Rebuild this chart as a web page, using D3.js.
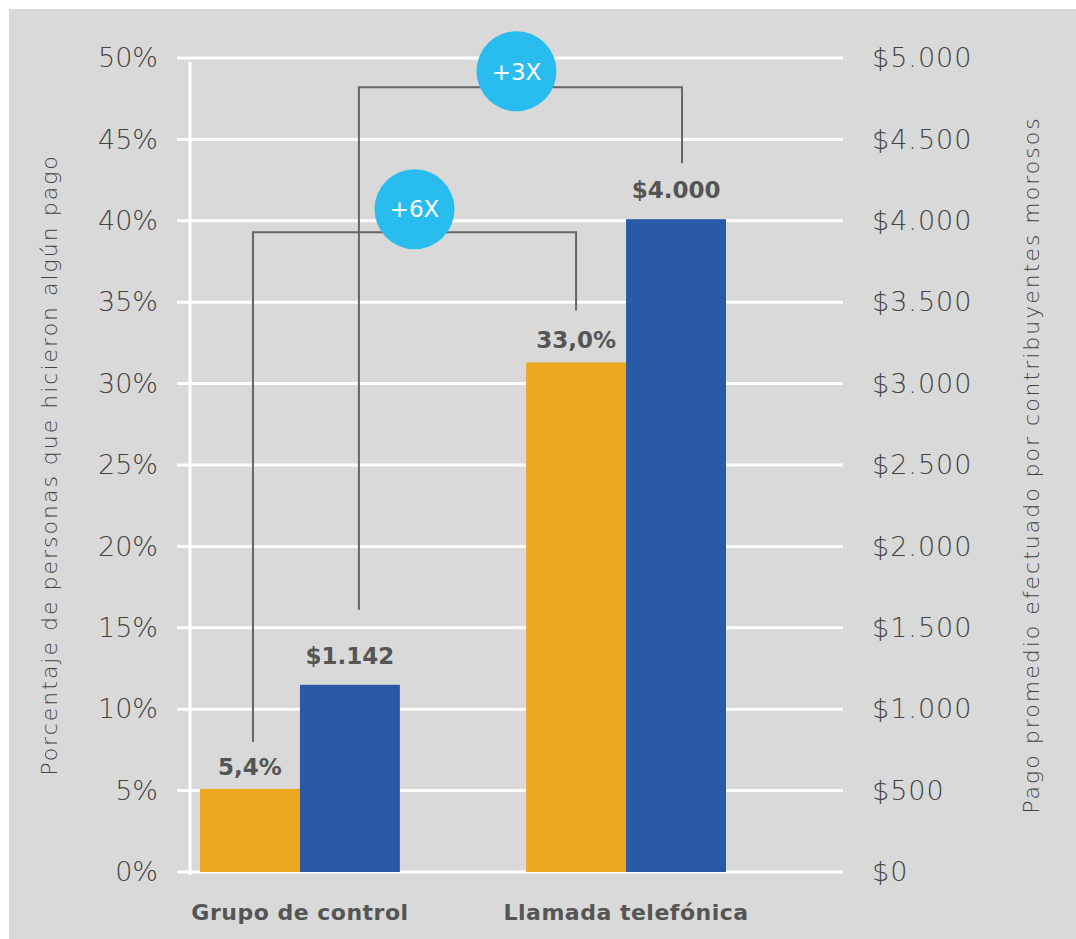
<!DOCTYPE html>
<html>
<head>
<meta charset="utf-8">
<script src="https://cdn.jsdelivr.net/npm/d3@7"></script>
<style>
  body { margin: 0; background: #fff; }
  text { font-family: "DejaVu Sans", "Open Sans", sans-serif; }
</style>
</head>
<body>
<div id="container"></div>
<script>
/* DATA */
const categories = ["Grupo de control", "Llamada telefónica"];
const pctValues = [5.1, 31.3];          // % personas (left axis)
const pctLabels = ["5,4%", "33,0%"];
const payValues = [1150, 4010];         // pago promedio (right axis)
const payLabels = ["$1.142", "$4.000"];
const leftTicks = [0, 5, 10, 15, 20, 25, 30, 35, 40, 45, 50];
const rightTicks = [0, 500, 1000, 1500, 2000, 2500, 3000, 3500, 4000, 4500, 5000];
const brackets = [
  { label: "+6X", level: 39.3, from: 0, fromSeries: "pct", to: 1, toSeries: "pct" },
  { label: "+3X", level: 48.2, from: 0, fromSeries: "pay", to: 1, toSeries: "pay" }
];

/* CONSTANTS */
const width = 1076, height = 939;
const orange = "#eca91f", blue = "#2a5aa6", grey = "#555", bubble = "#29bcee";

const svg = d3.select("#container").append("svg")
  .attr("width", width)
  .attr("height", height);

svg.append("rect")
  .attr("x", 9).attr("y", 9)
  .attr("width", width - 9).attr("height", height - 9)
  .attr("fill", "#d9d9d9");

/* SCALES */
const yLeft = d3.scaleLinear().domain([0, 50]).range([872, 58]);
const yRight = d3.scaleLinear().domain([0, 5000]).range([872, 58]);

const xScale = d3.scaleBand()
  .domain(categories)
  .range([200, 726])
  .paddingInner(0.387)
  .paddingOuter(0);

const xSub = d3.scaleBand()
  .domain(["pct", "pay"])
  .range([0, xScale.bandwidth()]);

/* GRIDLINES */
svg.append("g")
  .selectAll("line")
  .data(leftTicks)
  .join("line")
  .attr("x1", 177)
  .attr("x2", 843)
  .attr("y1", d => yLeft(d))
  .attr("y2", d => yLeft(d))
  .attr("stroke", "#fff")
  .attr("stroke-width", 3);

svg.append("line")
  .attr("x1", 190).attr("x2", 190)
  .attr("y1", yLeft(50) + 4).attr("y2", yLeft(0) + 3)
  .attr("stroke", "#fff")
  .attr("stroke-width", 3);

// axes (labels only)
const leftAxis = svg.append("g")
  .attr("transform", "translate(158,0)")
  .call(d3.axisLeft(yLeft).tickValues(leftTicks).tickFormat(d => d + "%").tickSize(0).tickPadding(0));
leftAxis.select(".domain").remove();
leftAxis.selectAll("text")
  .attr("fill", "#444")
  .style("font-size", "27px")
  .style("font-weight", 200);

const fmt = d3.formatLocale({ decimal: ",", thousands: ".", grouping: [3], currency: ["$", ""] }).format("$,.0f");
const rightAxis = svg.append("g")
  .attr("transform", "translate(872,0)")
  .call(d3.axisRight(yRight).tickValues(rightTicks).tickFormat(fmt).tickSize(0).tickPadding(0));
rightAxis.select(".domain").remove();
rightAxis.selectAll("text")
  .attr("fill", "#444")
  .style("font-size", "27px")
  .style("font-weight", 200)
  .style("letter-spacing", "1px");

// axis titles
svg.append("text")
  .attr("transform", `translate(57,${yLeft(25)}) rotate(-90)`)
  .attr("text-anchor", "middle")
  .attr("fill", "#444")
  .style("font-size", "22px")
  .style("font-weight", 200)
  .style("letter-spacing", "2px")
  .text("Porcentaje de personas que hicieron algún pago");

svg.append("text")
  .attr("transform", `translate(1039,${yLeft(25)}) rotate(-90)`)
  .attr("text-anchor", "middle")
  .attr("fill", "#444")
  .style("font-size", "22px")
  .style("font-weight", 200)
  .style("letter-spacing", "2px")
  .text("Pago promedio efectuado por contribuyentes morosos");

/* BARS */
const groups = svg.append("g")
  .selectAll("g")
  .data(categories)
  .join("g")
  .attr("transform", d => `translate(${xScale(d)},0)`);

groups.append("rect")
  .attr("x", xSub("pct"))
  .attr("y", (d, i) => yLeft(pctValues[i]))
  .attr("width", xSub.bandwidth())
  .attr("height", (d, i) => yLeft(0) - yLeft(pctValues[i]))
  .attr("fill", orange);

groups.append("rect")
  .attr("x", xSub("pay"))
  .attr("y", (d, i) => yRight(payValues[i]))
  .attr("width", xSub.bandwidth())
  .attr("height", (d, i) => yRight(0) - yRight(payValues[i]))
  .attr("fill", blue);

// value labels
groups.append("text")
  .attr("x", xSub("pct") + xSub.bandwidth() / 2)
  .attr("y", (d, i) => yLeft(pctValues[i]) - 14)
  .attr("text-anchor", "middle")
  .attr("fill", grey)
  .style("font-size", "23px")
  .style("font-weight", 700)
  .text((d, i) => pctLabels[i]);

groups.append("text")
  .attr("x", xSub("pay") + xSub.bandwidth() / 2)
  .attr("y", (d, i) => yRight(payValues[i]) - 21)
  .attr("text-anchor", "middle")
  .attr("fill", grey)
  .style("font-size", "23px")
  .style("font-weight", 700)
  .text((d, i) => payLabels[i]);

// category labels
groups.append("text")
  .attr("x", xScale.bandwidth() / 2)
  .attr("y", 920)
  .attr("text-anchor", "middle")
  .attr("fill", grey)
  .style("font-size", "22px")
  .style("font-weight", 700)
  .style("letter-spacing", "0.5px")
  .text(d => d);

/* BRACKETS */
const barTop = (i, s) => s === "pct" ? yLeft(pctValues[i]) : yRight(payValues[i]);
const barMid = (i, s) => xScale(categories[i]) + xSub(s) + xSub.bandwidth() / 2;
const endGap = { pct: [47, 52], pay: [75, 56] };
const xShift = { pct: [3, 0], pay: [9, 6] };
const bubbleShift = { pct: [0, -23], pay: [-4, -16] };

brackets.forEach(b => {
  const x1 = barMid(b.from, b.fromSeries) + xShift[b.fromSeries][0];
  const x2 = barMid(b.to, b.toSeries) + xShift[b.toSeries][1];
  const y1 = barTop(b.from, b.fromSeries) - endGap[b.fromSeries][0];
  const y2 = barTop(b.to, b.toSeries) - endGap[b.toSeries][1];
  const yl = yLeft(b.level);
  svg.append("path")
    .attr("d", `M${x1},${y1}V${yl}H${x2}V${y2}`)
    .attr("fill", "none")
    .attr("stroke", "#666")
    .attr("stroke-width", 2);
});

// bubbles drawn on top
brackets.forEach(b => {
  const x1 = barMid(b.from, b.fromSeries) + xShift[b.fromSeries][0];
  const x2 = barMid(b.to, b.toSeries) + xShift[b.toSeries][1];
  const cx = (x1 + x2) / 2 + bubbleShift[b.fromSeries][0];
  const cy = yLeft(b.level) + bubbleShift[b.fromSeries][1];
  svg.append("circle")
    .attr("cx", cx)
    .attr("cy", cy)
    .attr("r", 40)
    .attr("fill", bubble);
  svg.append("text")
    .attr("x", cx)
    .attr("y", cy)
    .attr("dy", "0.36em")
    .attr("text-anchor", "middle")
    .attr("fill", "#fff")
    .style("font-size", "23px")
    .style("font-weight", 400)
    .text(b.label);
});
</script>
</body>
</html>
